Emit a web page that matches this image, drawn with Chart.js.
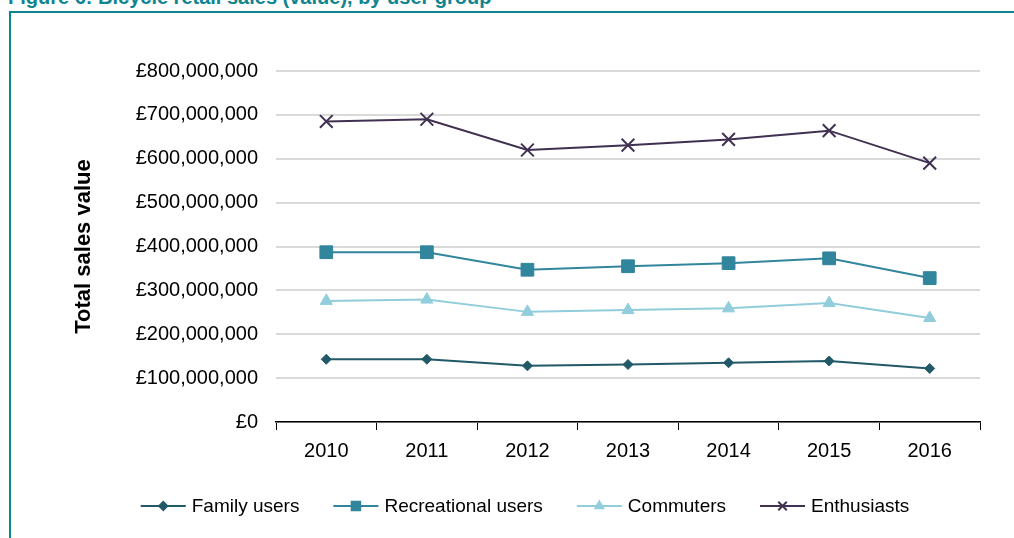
<!DOCTYPE html>
<html>
<head>
<meta charset="utf-8">
<script src="https://cdn.jsdelivr.net/npm/chart.js@4"></script>
<style>
    html, body { margin: 0; padding: 0; background: #fff; overflow: hidden; }
    body { width: 1014px; height: 538px; position: relative; font-family: "Liberation Sans", Arial, sans-serif; }
    #figTitle {
        position: absolute; left: 8px; top: -13px; line-height: 20px;
        font-size: 20px; font-weight: bold; color: #0e8590; white-space: nowrap;
    }
    #frame {
        position: absolute; left: 9px; top: 11px; width: 1100px; height: 600px;
        border: 2px solid #0e8590; box-sizing: border-box;
    }
    #myChart { position: absolute; left: 0; top: 0; }
</style>
</head>
<body>
<div id="figTitle">Figure 6: Bicycle retail sales (value), by user group</div>
<div id="frame"></div>
<canvas id="myChart" width="1014" height="538"></canvas>
<script>
const years = ["2010", "2011", "2012", "2013", "2014", "2015", "2016"];
const seriesNames = ["Family users", "Recreational users", "Commuters", "Enthusiasts"];
const familyUsers = [143000000, 143000000, 128000000, 131000000, 135000000, 139000000, 122000000];
const recreationalUsers = [387000000, 387000000, 347000000, 355000000, 362000000, 373000000, 328000000];
const commuters = [276000000, 279000000, 251000000, 255000000, 259000000, 271000000, 237000000];
const enthusiasts = [685000000, 690000000, 620000000, 631000000, 644000000, 664000000, 590000000];
const yMax = 800000000;
const yStep = 100000000;

const FONT = "'Liberation Sans', Arial, sans-serif";

function series(label, data, color, style, radius, legendRadius) {
    return {
        label: label,
        data: data,
        borderColor: color,
        backgroundColor: color,
        borderWidth: 2,
        pointStyle: style,
        pointRadius: radius,
        pointBorderWidth: style === "crossRot" ? 2 : 1,
        legendRadius: legendRadius,
        tension: 0
    };
}

// legend with a short line and the marker on it, drawn under the axis
const lineLegend = {
    id: "lineLegend",
    afterDraw(chart) {
        const ctx = chart.ctx;
        const lineLen = 45, gap = 6, spacing = 34, centerX = 525, y = 506;
        ctx.save();
        ctx.font = "19px " + FONT;
        const items = chart.data.datasets.map(ds => ({ ds: ds, w: ctx.measureText(ds.label).width }));
        const total = items.reduce((s, it) => s + lineLen + gap + it.w, 0) + spacing * (items.length - 1);
        let x = centerX - total / 2;
        items.forEach(it => {
            const ds = it.ds;
            ctx.strokeStyle = ds.borderColor;
            ctx.fillStyle = ds.backgroundColor;
            ctx.lineWidth = 2;
            ctx.beginPath();
            ctx.moveTo(x, y);
            ctx.lineTo(x + lineLen, y);
            ctx.stroke();
            Chart.helpers.drawPoint(ctx, {
                pointStyle: ds.pointStyle,
                radius: ds.legendRadius,
                rotation: 0,
                borderWidth: ds.pointBorderWidth
            }, x + lineLen / 2, y);
            ctx.fillStyle = "#000";
            ctx.textBaseline = "middle";
            ctx.textAlign = "left";
            ctx.fillText(ds.label, x + lineLen + gap, y + 1);
            x += lineLen + gap + it.w + spacing;
        });
        ctx.restore();
    }
};

let chart;

function initChart() {
    const ctx = document.getElementById("myChart").getContext("2d");
    chart = new Chart(ctx, {
        type: "line",
        data: {
            labels: years,
            datasets: [
                series(seriesNames[0], familyUsers, "#215968", "rectRot", 5, 4),
                series(seriesNames[1], recreationalUsers, "#31859c", "rect", 9, 6),
                series(seriesNames[2], commuters, "#92cddc", "triangle", 7, 4.5),
                series(seriesNames[3], enthusiasts, "#403152", "crossRot", 9, 6)
            ]
        },
        options: {
            responsive: false,
            animation: false,
            layout: { padding: { top: 71, right: 34, bottom: 78, left: 0 } },
            plugins: {
                legend: { display: false },
                tooltip: { enabled: false }
            },
            scales: {
                x: {
                    offset: true,
                    grid: {
                        offset: true,
                        drawOnChartArea: false,
                        drawTicks: true,
                        tickLength: 8,
                        color: "#000",
                        lineWidth: 1
                    },
                    border: { color: "#000", width: 1.5 },
                    ticks: {
                        padding: 9,
                        color: "#000",
                        font: { family: FONT, size: 20 }
                    },
                    afterFit(scale) { scale.height = 38; }
                },
                y: {
                    min: 0,
                    max: yMax,
                    grid: { color: "#d9d9d9", lineWidth: 2, drawTicks: false },
                    border: { display: false },
                    ticks: {
                        stepSize: yStep,
                        padding: 18,
                        color: "#000",
                        font: { family: FONT, size: 20 },
                        callback: v => "£" + v.toLocaleString("en-GB")
                    },
                    title: {
                        display: true,
                        text: "Total sales value",
                        color: "#000",
                        font: { family: FONT, size: 22, weight: "bold" },
                        padding: { top: 71, bottom: 0 }
                    },
                    afterFit(scale) { scale.width = 276; }
                }
            }
        },
        plugins: [lineLegend]
    });
}

document.addEventListener("DOMContentLoaded", function() {
    initChart();
});
</script>
</body>
</html>
